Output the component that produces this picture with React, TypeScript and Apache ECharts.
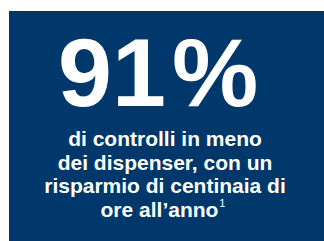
import React, { useEffect, useRef } from "react";
import * as echarts from "echarts";

const headlineNumber: string[] = ["91"];
const headlineUnit: string[] = ["%"];
const bodyLines: string[] = [
  "di controlli in meno",
  "dei dispenser, con un",
  "risparmio di centinaia di",
];
const lastLine: string[] = ["ore all\u2019anno", "1"];

const W = 324;
const H = 241;
const BG = "#00386b";
const FONT = "'Liberation Sans', Arial, Helvetica, sans-serif";

export default function App() {
  const ref = useRef<HTMLDivElement>(null);
  useEffect(() => {
    if (!ref.current) return;
    const chart = echarts.init(ref.current, undefined, { renderer: "svg" });
    const cx = 165;
    const bodyFs = 21;
    const lineY = [138.5, 162, 185.5];
    const graphic: any[] = [
      {
        type: "rect",
        shape: { x: 9, y: 11, width: W - 9, height: H - 11 },
        style: { fill: BG },
        silent: true,
      },
      {
        type: "text",
        x: 58,
        y: 72,
        style: {
          text: headlineNumber[0],
          fill: "#ffffff",
          font: `bold 97px ${FONT}`,
          align: "left",
          verticalAlign: "middle",
        },
      },
      {
        type: "text",
        x: 172,
        y: 72,
        style: {
          text: headlineUnit[0],
          fill: "#ffffff",
          font: `bold 97px ${FONT}`,
          align: "left",
          verticalAlign: "middle",
        },
      },
      ...bodyLines.map((t, i) => ({
        type: "text",
        x: cx,
        y: lineY[i],
        style: {
          text: t,
          fill: "#ffffff",
          font: `bold ${bodyFs}px ${FONT}`,
          align: "center",
          verticalAlign: "middle",
        },
      })),
      {
        type: "text",
        x: 163,
        y: 209,
        style: {
          text: `{m|${lastLine[0]}}{s|${lastLine[1]}}`,
          fill: "#ffffff",
          align: "center",
          verticalAlign: "middle",
          rich: {
            m: {
              fontFamily: FONT,
              fontWeight: "bold",
              fontSize: bodyFs,
              fill: "#ffffff",
              lineHeight: 24,
            },
            s: {
              fontFamily: FONT,
              fontSize: 11,
              fill: "#ffffff",
              verticalAlign: "top",
              lineHeight: 24,
              padding: [0, 0, 10, 1],
            },
          },
        },
      },
    ];
    chart.setOption({ animation: false, graphic });
    return () => chart.dispose();
  }, []);
  return (
    <div
      ref={ref}
      style={{ position: "fixed", left: 0, top: 0, width: W, height: H, background: "#ffffff" }}
    />
  );
}
